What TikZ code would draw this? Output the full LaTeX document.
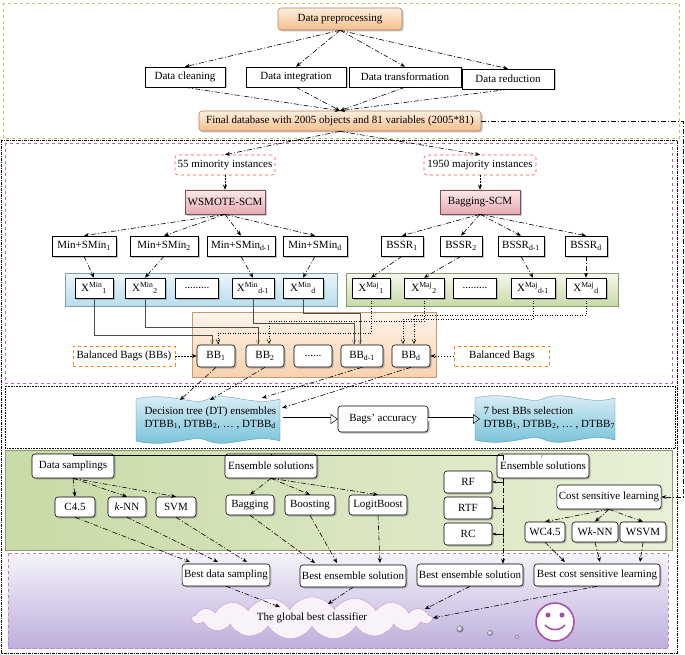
\documentclass[tikz,border=0pt]{standalone}
\usepackage{fontspec}
\setmainfont{Liberation Serif}
\usetikzlibrary{arrows.meta,shadows,shapes.symbols,calc}
\definecolor{pblue}{RGB}{185,222,238}
\definecolor{pgreen}{RGB}{200,218,165}
\definecolor{pgreenL}{RGB}{232,240,215}
\definecolor{ppurp}{RGB}{190,175,220}
\definecolor{ppink}{RGB}{232,170,178}
\definecolor{pink0}{RGB}{250,232,232}
\definecolor{porange}{RGB}{246,190,140}
\definecolor{porangeL}{RGB}{253,238,222}
\definecolor{pcyan}{RGB}{110,190,215}
\newcommand\fs{\fontsize{11}{12.5}\selectfont}
\newcommand\mybanner[3]{% center x, center y, halfwidth
  \shade[top color=pblue!40,bottom color=pcyan,draw=pcyan!70!black,line width=0.3pt]
   (#1-#3,#2-22) .. controls (#1-#3*0.5,#2-30) and (#1-#3*0.2,#2-14) .. (#1,#2-22)
   .. controls (#1+#3*0.3,#2-30) and (#1+#3*0.6,#2-14) .. (#1+#3,#2-22)
   -- (#1+#3,#2+20) .. controls (#1+#3*0.6,#2+12) and (#1+#3*0.3,#2+28) .. (#1,#2+20)
   .. controls (#1-#3*0.2,#2+12) and (#1-#3*0.5,#2+28) .. (#1-#3,#2+20) -- cycle;}
\begin{document}
\begin{tikzpicture}[x=1pt,y=-1pt,
  box/.style={draw,fill=white,font=\fs,inner sep=2pt,minimum height=20pt,line width=0.6pt},
  rbox/.style={box,rounded corners=3pt,drop shadow={opacity=0.45,shadow xshift=1.5pt,shadow yshift=-1.5pt}},
  sq/.style={box,drop shadow={opacity=0.45,shadow xshift=1.5pt,shadow yshift=-1.5pt}},
  obox/.style={rbox,draw=porange!70!black,top color=porangeL,bottom color=porange},
  pbox/.style={box,draw=ppink!50!black,top color=pink0,bottom color=ppink,minimum height=24pt,drop shadow={opacity=0.4,shadow xshift=1.5pt,shadow yshift=-1.5pt}},
  rdash/.style={box,draw=red!70,dashed,rounded corners=3pt},
  odash/.style={box,draw=orange,dashed},
  con/.style={-{Stealth[length=5pt,width=4pt]},dash pattern=on 5pt off 2pt on 1pt off 2pt,line width=0.6pt},
  dcon/.style={-{Stealth[length=5pt,width=4pt]},dash pattern=on 1.5pt off 1.5pt,line width=0.5pt},
  thinc/.style={-{Straight Barb[length=4pt,width=4pt]},line width=0.3pt,black!70},
  dotc/.style={-{Straight Barb[length=4pt,width=4pt]},line width=0.5pt,dotted},
  dbl/.style={double,double distance=3pt,line width=0.5pt,-{Triangle[open,length=7pt,width=10pt]}}]
\useasboundingbox (0,0) rectangle (685,655);
\fill[white] (0,0) rectangle (685,655);
% frames
\draw[olive!50,dashed,line width=0.5pt] (3,3) rectangle (679,138);
\draw[black,dash pattern=on 3pt off 1pt on 1pt off 1pt,line width=0.4pt] (1,140) rectangle (677,653);
\draw[violet!60,dashed,line width=0.7pt] (5,143) rectangle (672,383);
\draw[black,densely dotted,line width=0.6pt] (5,386) rectangle (675,448);
\shade[left color=pgreen,right color=pgreenL,draw=pgreen!70!black] (5,450) rectangle (672,550);
\shade[top color=ppurp!15,bottom color=ppurp,draw=violet!50,dashed,line width=0.7pt] (8,553) rectangle (668,648);
% panels
\shade[top color=pblue!30,bottom color=pblue,draw=pblue!70!black] (65,273) rectangle (337,306);
\shade[top color=pgreenL!40,bottom color=pgreen,draw=pgreen!70!black] (346,273) rectangle (618,306);
\shade[top color=porangeL!60,bottom color=porange!70,draw=porange!80!black] (192,312) rectangle (436,377);
% section 1
\node[obox,minimum width=124pt,minimum height=22pt] (dp) at (340,19) {Data preprocessing};
\node[sq,minimum width=80pt] (dc) at (185,77) {Data cleaning};
\node[sq,minimum width=100pt] (di) at (296,77) {Data integration};
\node[sq,minimum width=112pt] (dt) at (405,77) {Data transformation};
\node[sq,minimum width=92pt] (dr) at (508,79) {Data reduction};
\node[obox,minimum width=282pt,minimum height=20pt] (fd) at (340,121) {Final database with 2005 objects and 81 variables (2005*81)};
\foreach \n in {dc,di,dt,dr}{\draw[con] (dp.south) -- (\n.north); \draw[con] (\n.south) -- (fd.north);}
% section 2
\node[rdash,minimum width=100pt] (mi) at (225,165) {55 minority instances};
\node[rdash,minimum width=112pt] (ma) at (480,165) {1950 majority instances};
\draw[con] (fd.south) -- (mi.north);
\draw[con] (fd.south) -- (ma.north);
\node[pbox,minimum width=80pt] (ws) at (225,202) {WSMOTE-SCM};
\node[pbox,minimum width=80pt] (bs) at (480,202) {Bagging-SCM};
\draw[dcon] (mi) -- (ws); \draw[dcon] (ma) -- (bs);
\node[sq,minimum width=64pt] (m1) at (84,246) {Min+SMin\textsubscript{1}};
\node[sq,minimum width=68pt] (m2) at (164,246) {Min+SMin\textsubscript{2}};
\node[sq,minimum width=68pt] (m3) at (241,246) {Min+SMin\textsubscript{d-1}};
\node[sq,minimum width=64pt] (m4) at (315,246) {Min+SMin\textsubscript{d}};
\node[sq,minimum width=42pt] (b1) at (402,246) {BSSR\textsubscript{1}};
\node[sq,minimum width=42pt] (b2) at (461,246) {BSSR\textsubscript{2}};
\node[sq,minimum width=46pt] (b3) at (521,246) {BSSR\textsubscript{d-1}};
\node[sq,minimum width=42pt] (b4) at (586,246) {BSSR\textsubscript{d}};
\foreach \n in {m1,m2,m3,m4}{\draw[con] (ws.south) -- (\n.north);}
\foreach \n in {b1,b2,b3,b4}{\draw[con] (bs.south) -- (\n.north);}
\node[sq,minimum width=38pt] (x1) at (94,288) {X\textsuperscript{Min}\textsubscript{1}};
\node[sq,minimum width=40pt] (x2) at (145,288) {X\textsuperscript{Min}\textsubscript{2}};
\node[sq,minimum width=43pt] (x0) at (197,288) {.........};
\node[sq,minimum width=42pt] (x3) at (253,288) {X\textsuperscript{Min}\textsubscript{d-1}};
\node[sq,minimum width=40pt] (x4) at (303,288) {X\textsuperscript{Min}\textsubscript{d}};
\node[sq,minimum width=38pt] (y1) at (371,288) {X\textsuperscript{Maj}\textsubscript{1}};
\node[sq,minimum width=40pt] (y2) at (424,288) {X\textsuperscript{Maj}\textsubscript{2}};
\node[sq,minimum width=43pt] (y0) at (475,288) {.........};
\node[sq,minimum width=44pt] (y3) at (533,288) {X\textsuperscript{Maj}\textsubscript{d-1}};
\node[sq,minimum width=40pt] (y4) at (586,288) {X\textsuperscript{Maj}\textsubscript{d}};
\draw[con] (m1.south) -- (x1.north); \draw[con] (m2.south) -- (x2.north);
\draw[con] (m3.south) -- (x3.north); \draw[con] (m4.south) -- (x4.north);
\draw[con] (b1.south) -- (y1.north); \draw[con] (b2.south) -- (y2.north);
\draw[con] (b3.south) -- (y3.north); \draw[con] (b4.south) -- (y4.north);
\node[rbox,minimum width=38pt,minimum height=22pt] (bb1) at (216,356) {BB\textsubscript{1}};
\node[rbox,minimum width=38pt,minimum height=22pt] (bb2) at (265,356) {BB\textsubscript{2}};
\node[rbox,minimum width=38pt,minimum height=22pt] (bb0) at (313,356) {......};
\node[rbox,minimum width=42pt,minimum height=22pt] (bb3) at (362,356) {BB\textsubscript{d-1}};
\node[rbox,minimum width=38pt,minimum height=22pt] (bb4) at (411,356) {BB\textsubscript{d}};
\draw[thinc] (x1.south) |- (212,335) -- (212,344);
\draw[thinc] (x2.south) |- (258,327) -- (258,344);
\draw[thinc] (x3.south) |- (354,323) -- (354,344);
\draw[thinc] (x4.south) |- (360,313) -- (360,344);
\draw[dotc] (y1.south) |- (218,333) -- (218,344);
\draw[dotc] (y2.south) |- (269,321) -- (269,344);
\draw[dotc] (y3.south) |- (403,319) -- (403,344);
\draw[dotc] (y4.south) |- (414,315) -- (414,344);
\node[odash,minimum width=102pt] (bl) at (124,356) {Balanced Bags (BBs)};
\node[odash,minimum width=95pt] (br) at (502,356) {Balanced Bags};
\draw[dcon] (bl) -- (bb1); \draw[dcon] (br) -- (bb4);
% section 3
\mybanner{208}{421}{72}
\node[font=\fs,align=left,anchor=west] (dte) at (141,418) {Decision tree (DT) ensembles\\DTBB\textsubscript{1}, DTBB\textsubscript{2}, \dots{} , DTBB\textsubscript{d}};
\mybanner{545}{420}{70}
\node[font=\fs,align=left,anchor=west] (sel) at (480,418) {7 best BBs selection\\DTBB\textsubscript{1}, DTBB\textsubscript{2}, \dots{} , DTBB\textsubscript{7}};
\node[rbox,minimum width=90pt,minimum height=26pt] (ba) at (383,419) {Bags' accuracy};
\draw[con] (bb1.south) -- (180,400);
\draw[con] (bb2.south) -- (210,400);
\draw[con] (bb3.south) -- (262,398);
\draw[con] (bb4.south) -- (282,408);
\draw[dbl] (283,419) -- (ba.west);
\draw[dbl] (ba.east) -- (480,419);
% section 4
\node[rbox,minimum width=82pt,minimum height=24pt] (ds) at (73,466) {Data samplings};
\node[rbox,minimum width=92pt,minimum height=24pt] (es1) at (271,466) {Ensemble solutions};
\node[rbox,minimum width=92pt,minimum height=24pt] (es2) at (543,466) {Ensemble solutions};
\draw[line width=0.7pt] (503,460) -- (503,455) -| (ds.north);
\draw[line width=0.7pt] (271,455) -- (es1.north);
\draw[line width=0.5pt,gray] (541,458) -- (es2.north);
\node[rbox,minimum width=40pt] (c45) at (75,507) {C4.5};
\node[rbox,minimum width=38pt] (knn) at (127,507) {\textit{k}-NN};
\node[rbox,minimum width=40pt] (svm) at (176,507) {SVM};
\node[rbox,minimum width=48pt] (bag) at (250,505) {Bagging};
\node[rbox,minimum width=50pt] (boo) at (310,505) {Boosting};
\node[rbox,minimum width=58pt] (lb) at (378,505) {LogitBoost};
\foreach \n in {c45,knn,svm}{\draw[con] (ds.south) -- (\n.north);}
\foreach \n in {bag,boo,lb}{\draw[con] (es1.south) -- (\n.north);}
\node[rbox,minimum width=48pt,minimum height=22pt] (rf) at (468,482) {RF};
\node[rbox,minimum width=48pt,minimum height=22pt] (rtf) at (468,508) {RTF};
\node[rbox,minimum width=48pt,minimum height=22pt] (rc) at (468,534) {RC};
\foreach \n in {rf,rtf,rc}{\draw[{Bar[width=5pt]}-{Stealth[length=4pt]},line width=0.5pt] (503,0 |- \n.east) -- (\n.east);}
\node[rbox,minimum width=95pt,minimum height=24pt] (csl) at (609,497) {Cost sensitive learning};
\node[rbox,minimum width=40pt] (w1) at (545,532) {WC4.5};
\node[rbox,minimum width=46pt] (w2) at (595,532) {W\textit{k}-NN};
\node[rbox,minimum width=46pt] (w3) at (643,532) {WSVM};
\foreach \n in {w1,w2,w3}{\draw[con] (csl.south) -- (\n.north);}
\draw[dash pattern=on 5pt off 2pt on 1pt off 2pt,line width=0.6pt,-{Stealth[length=5pt]}] (fd.east) -- (683,121) -- (683,497) -- (csl.east);
% section 5
\node[rbox,minimum width=86pt,minimum height=22pt] (bds) at (226,575) {Best data sampling};
\node[rbox,minimum width=96pt,minimum height=22pt] (bes1) at (353,576) {Best ensemble solution};
\node[rbox,minimum width=96pt,minimum height=22pt] (bes2) at (470,575) {Best ensemble solution};
\node[rbox,minimum width=126pt,minimum height=22pt] (bcs) at (597,575) {Best cost sensitive learning};
\draw[con] (503,478) -- (bes2.north -| 503,0);
\draw[con] (c45.south) -- (190,562);
\draw[con] (knn.south) -- (218,562);
\draw[con] (svm.south) -- (247,562);
\draw[con] (bag.south) -- (315,563);
\draw[con] (boo.south) -- (337,563);
\draw[con] (lb.south) -- (380,563);
\draw[con] (w1.south) -- (565,562);
\draw[con] (w2.south) -- (600,562);
\draw[con] (w3.south) -- (640,562);
\node[cloud,cloud puffs=17,cloud puff arc=120,aspect=6,draw=violet!40,fill=violet!5,minimum width=240pt,minimum height=38pt,inner sep=0pt,font=\fs] (gb) at (312,618) {The global best classifier};
\draw[con] (bds.south) -- (280,607);
\draw[con] (bes1.south) -- (328,604);
\draw[con] (bes2.south) -- (425,609);
\draw[con] (bcs.south) -- (gb.east);
\shade[ball color=ppurp!60] (460,629) circle (3.5);
\shade[ball color=ppurp!60] (490,633) circle (2.8);
\shade[ball color=ppurp!60] (517,637) circle (2);
\node[circle,draw=violet!70,line width=1.5pt,fill=white,minimum size=38pt] (sm) at (555,622) {};
\fill[violet!70] (548,615) circle (2.5) (562,615) circle (2.5);
\draw[violet!70,line width=1.5pt] (545,625) .. controls (550,631) and (560,631) .. (565,625);
\end{tikzpicture}
\end{document}
